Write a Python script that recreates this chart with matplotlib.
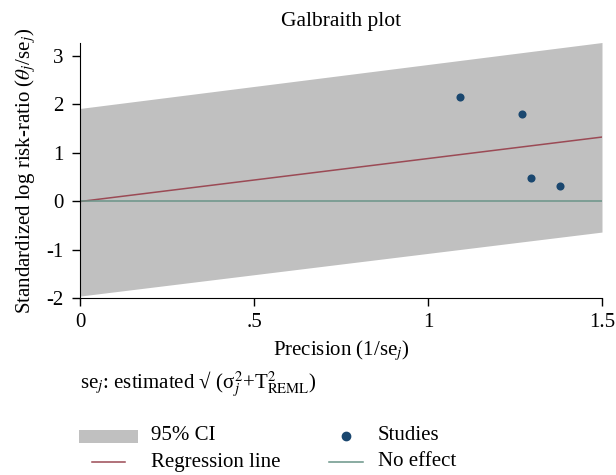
import matplotlib.pyplot as plt
from matplotlib.patches import Rectangle
from matplotlib.lines import Line2D

plt.rcParams['font.family'] = ['Liberation Serif', 'DejaVu Serif']
plt.rcParams['mathtext.fontset'] = 'stix'
plt.rcParams['axes.unicode_minus'] = False

# data
precision = [1.092, 1.271, 1.295, 1.379]
std_effect = [2.14, 1.79, 0.48, 0.30]

band_x = [0.0, 1.5]
band_upper = [1.91, 3.27]
band_lower = [-1.96, -0.64]

reg_x = [0.0, 1.5]
reg_y = [-0.01, 1.32]

null_x = [0.0, 1.5]
null_y = [0.0, 0.0]

xticks = [0, 0.5, 1, 1.5]
xtick_labels = ['0', '.5', '1', '1.5']
yticks = [-2, -1, 0, 1, 2, 3]

band_col = '#c0c0c0'
dot_col = '#1a476f'
reg_col = '#9b4a55'
null_col = '#6a9488'

W, H = 616, 475
fig = plt.figure(figsize=(W / 100, H / 100), dpi=100)
ax = fig.add_axes([80 / W, 1 - 298 / H, 522 / W, 255 / H])

ax.fill_between(band_x, band_lower, band_upper, color=band_col, lw=0)
ax.plot(reg_x, reg_y, color=reg_col, lw=1.1)
ax.plot(null_x, null_y, color=null_col, lw=1.1)
ax.scatter(precision, std_effect, s=34, color=dot_col, zorder=3, lw=0)

ax.set_xlim(0, 1.5)
ax.set_ylim(-2, 3.26)
ax.set_xticks(xticks)
ax.set_xticklabels(xtick_labels)
ax.set_yticks(yticks)
ax.tick_params(labelsize=15, length=6, width=1)
ax.tick_params(axis='x', pad=5)
ax.tick_params(axis='y', pad=6)
ax.spines['top'].set_visible(False)
ax.spines['right'].set_visible(False)

ax.set_title('Galbraith plot', fontsize=15.5, pad=12)
ax.set_xlabel('Precision (1/se$_j$)', fontsize=15, labelpad=4)
ax.set_ylabel(r'Standardized log risk-ratio ($\theta_j$/se$_j$)', fontsize=15, labelpad=6)

fig.text(80 / W, 1 - 385 / H, r'se$_j$: estimated √ (σ$_j^2$+T$^2_{\mathrm{REML}}$)',
         fontsize=15, va='center', ha='left')


# legend drawn in figure pixels
def fx(px):
    return px / W


def fy(py):
    return 1 - py / H


fig.add_artist(Rectangle((fx(79), fy(443)), fx(59), 13 / H, facecolor=band_col,
                         edgecolor='none', transform=fig.transFigure))
fig.add_artist(Line2D([fx(92), fx(125)], [fy(462), fy(462)], color=reg_col, lw=1.1,
                      transform=fig.transFigure))
fig.add_artist(Line2D([fx(346)], [fy(436)], marker='o', markersize=6, color=dot_col,
                      ls='none', transform=fig.transFigure))
fig.add_artist(Line2D([fx(329), fx(363)], [fy(462), fy(462)], color=null_col, lw=1.1,
                      transform=fig.transFigure))
fig.text(fx(151), fy(436), '95% CI', fontsize=15, va='center')
fig.text(fx(151), fy(462), 'Regression line', fontsize=15, va='center')
fig.text(fx(378), fy(436), 'Studies', fontsize=15, va='center')
fig.text(fx(378), fy(462), 'No effect', fontsize=15, va='center')

fig.savefig('out.png', dpi=100)
